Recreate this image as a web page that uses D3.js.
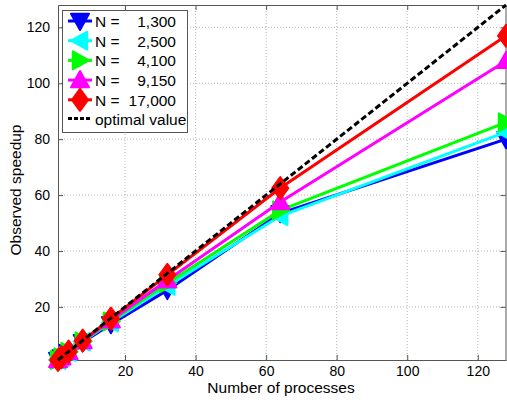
<!DOCTYPE html>
<html>
<head>
<meta charset="utf-8">
<script src="https://cdn.jsdelivr.net/npm/d3@7"></script>
<style>
  body { margin: 0; background: #fff; }
  text { font-family: "Liberation Sans", Arial, sans-serif; fill: #000; }
</style>
</head>
<body>
<div id="viz_container"></div>
<script>
// number of processes (x values)
const procs = [1, 2, 4, 8, 16, 32, 64, 128];

// observed speedup per problem size
const speedup1300  = [1, 1.95, 3.8, 7.4, 13.8, 26, 53.5, 80];
const speedup2500  = [1, 1.95, 3.85, 7.6, 14.5, 27.5, 52.5, 82.5];
const speedup4100  = [1, 1.97, 3.9, 7.7, 14.8, 28.5, 54.5, 86];
const speedup9150  = [1, 1.98, 3.95, 7.8, 15.2, 29.5, 57.5, 108];
const speedup17000 = [1, 2, 4, 7.95, 15.8, 31.5, 62.5, 117];

const seriesLabels = ["1,300", "2,500", "4,100", "9,150", "17,000"];
const seriesColors = ["#0000ff", "#00ffff", "#00ff00", "#ff00ff", "#ff0000"];
const seriesMarkers = ["down", "left", "right", "up", "diamond"];

const xTicks = [20, 40, 60, 80, 100, 120];
const yTicks = [20, 40, 60, 80, 100, 120];

const allSeries = [speedup1300, speedup2500, speedup4100, speedup9150, speedup17000];

const width = 507, height = 400;
const margin = {top: 5, right: 1, bottom: 40, left: 58};

const svg = d3.select("#viz_container")
  .append("svg")
    .attr("width", width)
    .attr("height", height);

// scales
const x = d3.scaleLinear().domain([1, 128]).range([margin.left, width - margin.right]);
const y = d3.scaleLinear().domain([1, 128]).range([height - margin.bottom, margin.top]);

// grid lines (dotted)
const grid = svg.append("g");
grid.selectAll(".gx").data(xTicks).join("line")
  .attr("x1", d => x(d)).attr("x2", d => x(d))
  .attr("y1", y(1)).attr("y2", y(128))
  .attr("stroke", "#b5b5b5").attr("stroke-width", 1).attr("stroke-dasharray", "1,2");
grid.selectAll(".gy").data(yTicks).join("line")
  .attr("x1", x(1)).attr("x2", x(128))
  .attr("y1", d => y(d)).attr("y2", d => y(d))
  .attr("stroke", "#b5b5b5").attr("stroke-width", 1).attr("stroke-dasharray", "1,2");

// axes (ticks inside, like matlab)
svg.append("g")
  .attr("transform", `translate(0, ${y(1)})`)
  .call(d3.axisBottom(x).tickValues(xTicks).tickSize(-5).tickPadding(6).tickSizeOuter(0))
  .call(g => g.selectAll("text").style("font-size", "14px"))
  .call(g => g.selectAll("line,path").attr("stroke", "#555"));
svg.append("g")
  .attr("transform", `translate(${x(1)}, 0)`)
  .call(d3.axisLeft(y).tickValues(yTicks).tickSize(-5).tickPadding(8).tickSizeOuter(0))
  .call(g => g.selectAll("text").style("font-size", "14px"))
  .call(g => g.selectAll("line,path").attr("stroke", "#555"));
// top and right box with ticks
svg.append("g")
  .attr("transform", `translate(0, ${y(128)})`)
  .call(d3.axisTop(x).tickValues(xTicks).tickSize(-5).tickFormat("").tickSizeOuter(0))
  .call(g => g.selectAll("line,path").attr("stroke", "#555"));
svg.append("g")
  .attr("transform", `translate(${x(128) - 0.5}, 0)`)
  .call(d3.axisRight(y).tickValues(yTicks).tickSize(-5).tickFormat("").tickSizeOuter(0))
  .call(g => g.selectAll("line,path").attr("stroke", "#555"));

// axis labels
svg.append("text")
  .attr("x", 281)
  .attr("y", 393)
  .attr("text-anchor", "middle")
  .style("font-size", "15.5px")
  .text("Number of processes");
svg.append("text")
  .attr("transform", `translate(21, 190) rotate(-90)`)
  .attr("text-anchor", "middle")
  .style("font-size", "15.5px")
  .text("Observed speedup");

// marker shapes
function markerPath(type) {
  const s = 9, h = 0.8;
  switch (type) {
    case "down": return `M${-s},${-s * h}L${s},${-s * h}L0,${s}Z`;
    case "up": return `M${-s},${s * h}L${s},${s * h}L0,${-s}Z`;
    case "left": return `M${s * h},${-s}L${s * h},${s}L${-s},0Z`;
    case "right": return `M${-s * h},${-s}L${-s * h},${s}L${s},0Z`;
    default: return `M0,${-11}L8,0L0,11L-8,0Z`;
  }
}

const line = d3.line().x(d => x(d[0])).y(d => y(d[1]));

// series
allSeries.forEach((vals, i) => {
  const pts = procs.map((p, j) => [p, vals[j]]);
  const g = svg.append("g");
  g.append("path")
    .datum(pts)
    .attr("d", line)
    .attr("fill", "none")
    .attr("stroke", seriesColors[i])
    .attr("stroke-width", 3);
  g.selectAll("path.m").data(pts).join("path")
    .attr("class", "m")
    .attr("transform", d => `translate(${x(d[0])}, ${y(d[1])})`)
    .attr("d", markerPath(seriesMarkers[i]))
    .attr("fill", seriesColors[i])
    .attr("stroke", seriesColors[i])
    .attr("stroke-width", 2)
    .attr("stroke-linejoin", "round");
});

// optimal value
svg.append("path")
  .datum([[1, 1], [128, 128]])
  .attr("d", line)
  .attr("fill", "none")
  .attr("stroke", "#000")
  .attr("stroke-width", 3)
  .attr("stroke-dasharray", "6,3");

// legend
const legend = svg.append("g");
legend.append("rect")
  .attr("x", 62.5).attr("y", 10.5)
  .attr("width", 125).attr("height", 122)
  .attr("fill", "#fff").attr("stroke", "#555");

seriesLabels.forEach((lab, i) => {
  const ly = 21 + i * 19.7;
  legend.append("line")
    .attr("x1", 68).attr("x2", 92).attr("y1", ly).attr("y2", ly)
    .attr("stroke", seriesColors[i]).attr("stroke-width", 3);
  legend.append("path")
    .attr("transform", `translate(80, ${ly})`)
    .attr("d", markerPath(seriesMarkers[i]))
    .attr("fill", seriesColors[i])
    .attr("stroke", seriesColors[i])
    .attr("stroke-width", 2)
    .attr("stroke-linejoin", "round");
  legend.append("text")
    .attr("x", 95).attr("y", ly + 6)
    .style("font-size", "15.5px")
    .text("N =");
  legend.append("text")
    .attr("x", 176).attr("y", ly + 6)
    .attr("text-anchor", "end")
    .style("font-size", "15.5px")
    .text(lab);
});
const oy = 21 + 5 * 19.7 - 1;
legend.append("line")
  .attr("x1", 68).attr("x2", 92).attr("y1", oy).attr("y2", oy)
  .attr("stroke", "#000").attr("stroke-width", 3).attr("stroke-dasharray", "4,2");
legend.append("text")
  .attr("x", 95).attr("y", oy + 6)
  .style("font-size", "15.5px")
  .text("optimal value");
</script>
</body>
</html>
